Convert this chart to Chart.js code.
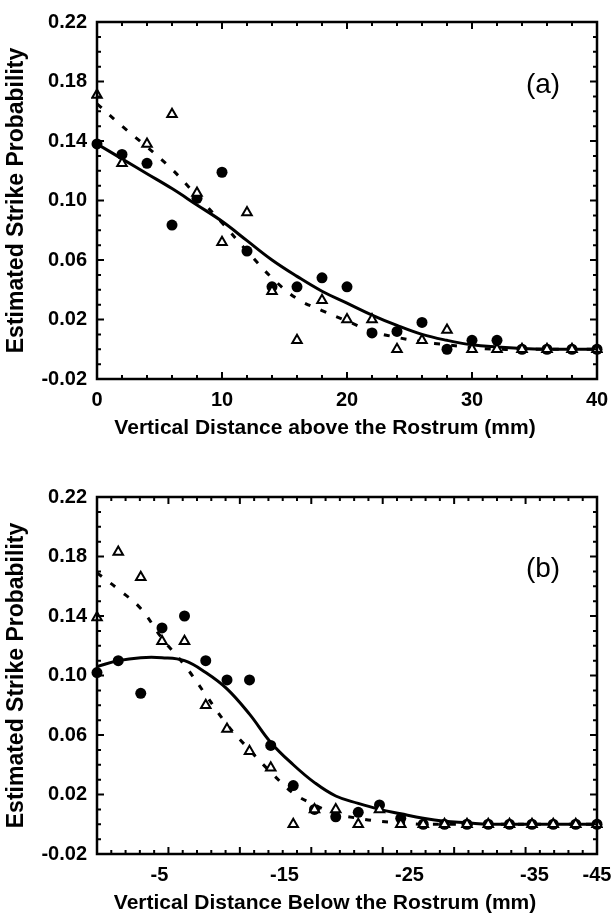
<!DOCTYPE html>
<html lang="en">
<head>
<meta charset="UTF-8">
<title>Estimated Strike Probability</title>
<script src="https://cdn.jsdelivr.net/npm/chart.js"></script>
<style>
  body { margin: 0; background: #fff; width: 611px; height: 920px; position: relative; overflow: hidden; }
  .panel { position: absolute; left: 0; width: 611px; height: 445px; }
  #panelA { top: 0; }
  #panelB { top: 475px; }
</style>
</head>
<body>
<div class="panel" id="panelA"><canvas id="chartA"></canvas></div>
<div class="panel" id="panelB"><canvas id="chartB"></canvas></div>
<script>
// ---- panel (a): above the rostrum ----
const xA = [0, 2, 4, 6, 8, 10, 12, 14, 16, 18, 20, 22, 24, 26, 28, 30, 32, 34, 36, 38, 40];
const circlesA = [0.138, 0.131, 0.125, 0.0835, 0.1015, 0.119, 0.066, 0.042, 0.042, 0.048, 0.042,
                  0.011, 0.012, 0.018, 0.0, 0.006, 0.006, 0, 0, 0, 0];
const trianglesA = [0.171, 0.125, 0.138, 0.158, 0.105, 0.072, 0.092, 0.039, 0.006, 0.033, 0.020,
                    0.020, 0.0, 0.006, 0.013, 0, 0, 0, 0, 0, 0];
const solidA = [0.138, 0.128, 0.118, 0.108, 0.097, 0.086, 0.073, 0.060, 0.049, 0.039, 0.031,
                0.023, 0.016, 0.010, 0.006, 0.003, 0.0015, 0.0005, 0, 0, 0];
const dashedA = [0.165, 0.150, 0.136, 0.121, 0.103, 0.085, 0.066, 0.048, 0.034, 0.026, 0.019,
                 0.012, 0.008, 0.005, 0.003, 0.001, 0, 0, 0, 0, 0];
const xTicksA = [0, 10, 20, 30, 40];
const xTickLabelsA = ['0', '10', '20', '30', '40'];

// ---- panel (b): below the rostrum ----
const xB = [0, -1.7, -3.5, -5.2, -7.0, -8.7, -10.4, -12.2, -13.9, -15.7, -17.4, -19.1,
            -20.9, -22.6, -24.3, -26.1, -27.8, -29.6, -31.3, -33.0, -34.8, -36.5, -38.3, -40.0];
const circlesB = [0.102, 0.110, 0.088, 0.132, 0.140, 0.110, 0.097, 0.097, 0.053, 0.026, 0.010, 0.005,
                  0.008, 0.013, 0.004, 0, 0, 0, 0, 0, 0, 0, 0, 0];
const trianglesB = [0.139, 0.183, 0.166, 0.123, 0.123, 0.080, 0.064, 0.049, 0.038, 0.0, 0.010, 0.010,
                    0.0, 0.010, 0.0, 0, 0, 0, 0, 0, 0, 0, 0, 0];
const solidB = [0.106, 0.110, 0.112, 0.112, 0.110, 0.102, 0.091, 0.074, 0.055, 0.040, 0.028, 0.019,
                0.014, 0.010, 0.007, 0.004, 0.002, 0.001, 0, 0, 0, 0, 0, 0];
const dashedB = [0.169, 0.158, 0.145, 0.125, 0.107, 0.087, 0.067, 0.050, 0.035, 0.021, 0.013, 0.007,
                 0.004, 0.002, 0.001, 0, 0, 0, 0, 0, 0, 0, 0, 0];
const xTicksB = [-5, -15, -25, -35, -40];
const xTickLabelsB = ['-5', '-15', '-25', '-35', '-45'];

// shared y axis
const yTicks = [-0.02, 0.02, 0.06, 0.10, 0.14, 0.18, 0.22];

const FONT = "'Liberation Sans', Arial, Helvetica, sans-serif";

// frame box with inward ticks on all four sides, panel letter and x-axis title
const frameTicks = {
  id: 'frameTicks',
  afterDraw(chart, args, opts) {
    const { ctx, chartArea: a, scales: { x, y } } = chart;
    ctx.save();
    ctx.strokeStyle = '#000';
    ctx.lineWidth = 2;
    ctx.beginPath();
    // x ticks: opts.xDiv minor divisions, major every opts.xEvery
    for (let i = 0; i <= opts.xDiv; i++) {
      const v = x.min + (x.max - x.min) * i / opts.xDiv;
      const px = x.getPixelForValue(v);
      const len = i % opts.xEvery === 0 ? 7 : 4;
      ctx.moveTo(px, a.bottom); ctx.lineTo(px, a.bottom - len);
      ctx.moveTo(px, a.top); ctx.lineTo(px, a.top + len);
    }
    // y ticks every 0.01, major every 0.04
    for (let i = 0; i <= 24; i++) {
      const py = y.getPixelForValue(-0.02 + i * 0.01);
      const len = i % 4 === 0 ? 7 : 4;
      ctx.moveTo(a.left, py); ctx.lineTo(a.left + len, py);
      ctx.moveTo(a.right, py); ctx.lineTo(a.right - len, py);
    }
    ctx.stroke();
    ctx.lineWidth = 2.5;
    ctx.strokeRect(a.left, a.top, a.right - a.left, a.bottom - a.top);

    ctx.fillStyle = '#000';
    ctx.textAlign = 'center';
    ctx.textBaseline = 'middle';
    ctx.font = '28px ' + FONT;
    ctx.fillText(opts.label, a.right - 54, a.top + opts.labelDy);
    // x-axis title, centred on the figure rather than on the plot box
    ctx.font = 'bold 21px ' + FONT;
    ctx.fillText(opts.xTitle, 325, a.bottom + 49);
    ctx.restore();
  }
};

function pts(xs, ys) {
  return xs.map((v, i) => ({ x: v, y: ys[i] }));
}

function makeChart(id, cfg) {
  return new Chart(document.getElementById(id), {
    type: 'scatter',
    data: {
      datasets: [
        { type: 'line', data: pts(cfg.xs, cfg.solid), borderColor: '#000', borderWidth: 3,
          pointRadius: 0, tension: 0.4, fill: false, order: 3 },
        { type: 'line', data: pts(cfg.xs, cfg.dashed), borderColor: '#000', borderWidth: 3,
          borderDash: [6, 11], pointRadius: 0, tension: 0.4, fill: false, order: 4 },
        { data: pts(cfg.xs, cfg.circles), pointStyle: 'circle', pointRadius: 5.5,
          backgroundColor: '#000', borderColor: '#000', borderWidth: 0, clip: 6, order: 2 },
        { data: pts(cfg.xs, cfg.triangles), pointStyle: 'triangle', pointRadius: 5.5,
          backgroundColor: '#fff', borderColor: '#000', borderWidth: 2, clip: 6, order: 1 }
      ]
    },
    options: {
      responsive: true,
      maintainAspectRatio: false,
      animation: false,
      layout: { padding: { top: 15, right: 14, left: 0, bottom: 0 } },
      plugins: {
        legend: { display: false },
        tooltip: { enabled: false },
        frameTicks: { xDiv: cfg.xDiv, xEvery: cfg.xEvery, label: cfg.label, labelDy: cfg.labelDy,
                      xTitle: cfg.xTitle }
      },
      scales: {
        x: {
          type: 'linear',
          min: cfg.xMin, max: cfg.xMax, reverse: cfg.reverse,
          grid: { display: false, drawTicks: false },
          border: { display: false },
          afterBuildTicks: s => { s.ticks = cfg.xTicks.map(v => ({ value: v })); },
          afterFit: s => { s.height = 66; s.paddingLeft = 0; s.paddingRight = 0; },
          ticks: {
            autoSkip: false, maxRotation: 0, padding: 9, color: '#000',
            font: { family: FONT, size: 20, weight: 'bold' },
            callback: (v, i) => cfg.xTickLabels[i]
          }
        },
        y: {
          min: -0.02, max: 0.22,
          grid: { display: false, drawTicks: false },
          border: { display: false },
          afterBuildTicks: s => { s.ticks = yTicks.map(v => ({ value: v })); },
          afterFit: s => { s.width = 97; },
          ticks: {
            padding: 10, color: '#000',
            font: { family: FONT, size: 20, weight: 'bold' },
            callback: v => v.toFixed(2)
          },
          title: {
            display: true, text: 'Estimated Strike Probability', color: '#000',
            font: { family: FONT, size: 23, weight: 'bold' },
            padding: { top: 3, bottom: 0 }
          }
        }
      }
    },
    plugins: [frameTicks]
  });
}

makeChart('chartA', {
  xs: xA, circles: circlesA, triangles: trianglesA, solid: solidA, dashed: dashedA,
  xMin: 0, xMax: 40, reverse: false, xTicks: xTicksA, xTickLabels: xTickLabelsA,
  xDiv: 20, xEvery: 5, label: '(a)', labelDy: 63,
  xTitle: 'Vertical Distance above the Rostrum (mm)'
});

makeChart('chartB', {
  xs: xB, circles: circlesB, triangles: trianglesB, solid: solidB, dashed: dashedB,
  xMin: -40, xMax: 0, reverse: true, xTicks: xTicksB, xTickLabels: xTickLabelsB,
  xDiv: 35, xEvery: 5, label: '(b)', labelDy: 72,
  xTitle: 'Vertical Distance Below the Rostrum (mm)'
});
</script>
</body>
</html>
